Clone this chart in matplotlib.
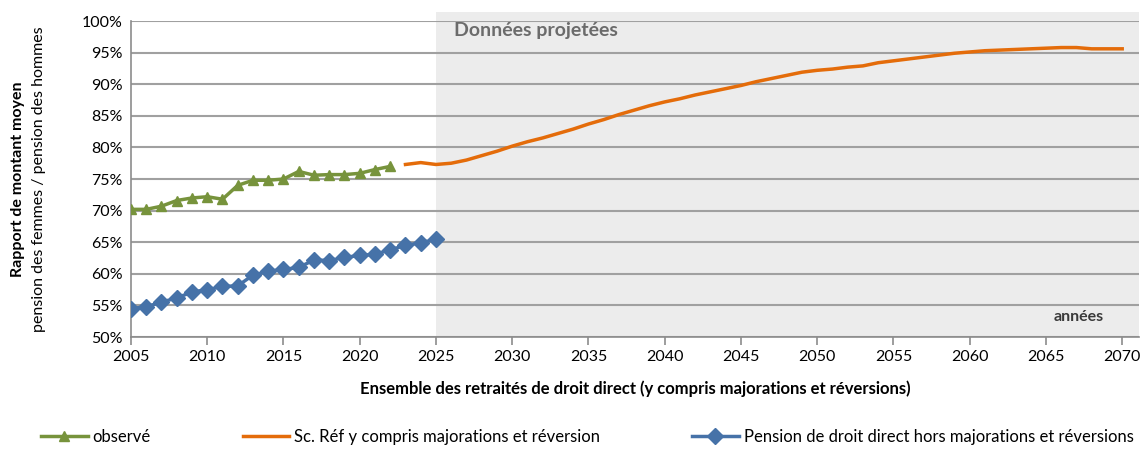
import matplotlib.pyplot as plt
from matplotlib.ticker import PercentFormatter

plt.rcParams['font.family'] = ['Lato', 'DejaVu Sans']

# données
annees_obs = list(range(2005, 2023))
observe = [70.2, 70.2, 70.7, 71.6, 72.0, 72.2, 71.8, 74.0, 74.8, 74.8, 75.0,
           76.2, 75.6, 75.7, 75.7, 75.9, 76.5, 77.0]

annees_proj = list(range(2023, 2071))
sc_ref = [77.3, 77.6, 77.3, 77.5, 78.0, 78.7, 79.4, 80.2, 80.9, 81.5, 82.2,
          82.9, 83.7, 84.4, 85.2, 85.9, 86.6, 87.2, 87.7, 88.3, 88.8, 89.3,
          89.8, 90.4, 90.9, 91.4, 91.9, 92.2, 92.4, 92.7, 92.9, 93.4, 93.7,
          94.0, 94.3, 94.6, 94.9, 95.1, 95.3, 95.4, 95.5, 95.6, 95.7, 95.8,
          95.8, 95.6, 95.6, 95.6]

annees_dd = list(range(2005, 2026))
droit_direct = [54.5, 54.8, 55.5, 56.2, 57.1, 57.5, 58.0, 58.1, 59.8, 60.4,
                60.7, 61.0, 62.2, 62.1, 62.6, 62.9, 63.1, 63.8, 64.5, 64.9, 65.5]

fig = plt.figure(figsize=(11.47, 4.49), dpi=100)
ax = fig.add_axes([0.1142, 0.2494, 0.993 - 0.1142, 0.9532 - 0.2494])

# zone projetée
ax.axvspan(2025, 2071.1, ymin=0, ymax=1.03, color='#ececec', zorder=0, clip_on=False, lw=0)

ax.plot(annees_obs, observe, color='#77933C', lw=2.5, marker='^', ms=7, zorder=3,
        label='observé')
ax.plot(annees_proj, sc_ref, color='#E46C0A', lw=2.5, zorder=3,
        label='Sc. Réf y compris majorations et réversion')
ax.plot(annees_dd, droit_direct, color='#4672A8', lw=2.5, marker='D', ms=8, zorder=3,
        label='Pension de droit direct hors majorations et réversions')

ax.set_xlim(2005, 2071.1)
ax.set_ylim(50, 100)
ax.set_xticks(range(2005, 2071, 5))
ax.set_yticks(range(50, 101, 5))
ax.yaxis.set_major_formatter(PercentFormatter(decimals=0))
ax.grid(axis='y', color='#a0a0a0', lw=1.5, zorder=1)
ax.set_axisbelow(True)
for s in ['top', 'right']:
    ax.spines[s].set_visible(False)
for s in ['left', 'bottom']:
    ax.spines[s].set_color('#8c8c8c')
    ax.spines[s].set_linewidth(1.2)
ax.tick_params(axis='x', colors='#8c8c8c', labelcolor='black', labelsize=11.5,
               length=6, width=1.2, direction='out')
ax.tick_params(axis='y', labelsize=11.5, length=0, pad=6)

ax.text(2026.2, 97.6, 'Données projetées', fontsize=14, fontweight='bold', color='#6b6b6b')
ax.text(2065.5, 52.5, 'années', fontsize=11.5, fontweight='bold', color='#3a3a3a')

ax.set_xlabel('Ensemble des retraités de droit direct (y compris majorations et réversions)',
              fontsize=12, fontweight='bold', labelpad=12)
fig.text(0.016, 0.6, 'Rapport de montant moyen', rotation=90, ha='center', va='center',
         fontsize=11.5, fontweight='bold')
fig.text(0.034, 0.6, 'pension des femmes / pension des hommes', rotation=90, ha='center',
         va='center', fontsize=11.5)

fig.legend(loc='lower center', bbox_to_anchor=(0.512, -0.025), ncol=3, frameon=False,
           fontsize=12, handlelength=2.8, columnspacing=5.5, handletextpad=0.3)

fig.savefig('out.png', dpi=100)
